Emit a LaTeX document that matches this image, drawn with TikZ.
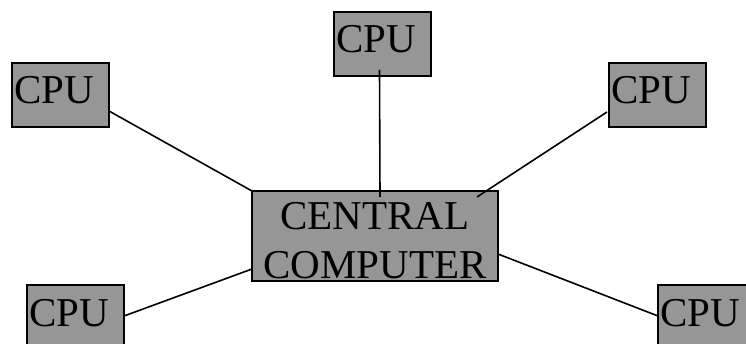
\documentclass[tikz,border=0pt]{standalone}
\usepackage{fontspec}
\setmainfont{Liberation Serif}
\usetikzlibrary{positioning}
\definecolor{boxgray}{RGB}{150,150,150}

\begin{document}
\begin{tikzpicture}[
		x=1pt, y=-1pt,
		line width=1.6pt,
		cpu/.style={draw, fill=boxgray, anchor=north west, outer sep=0pt, inner xsep=2pt, inner ysep=0pt, text width=93pt, align=left, text height=41pt, text depth=23pt, font=\fontsize{41}{49}\selectfont},
		computer/.style={draw, fill=boxgray, anchor=north west, outer sep=0pt, inner sep=0pt, minimum width=246pt, text height=88pt, text depth=2pt, align=center, font=\fontsize{41}{49}\selectfont},
	]
	\useasboundingbox (0,0) rectangle (746,344);
	\clip (0,0) rectangle (746,344);

	\node[cpu] (cputl) at (12,63) {CPU};
	\node[cpu] (cputop) at (334,12) {CPU};
	\node[cpu] (cputr) at (609,63) {CPU};
	\node[cpu] (cpubl) at (27,285) {CPU};
	\node[cpu] (cpubr) at (658,285) {CPU};
	\node[computer] (central) at (252,191) {CENTRAL\\COMPUTER};

	\draw ([yshift=-16pt]cputl.east) -- (central.north west);
	\draw ([xshift=-3pt, yshift=6pt]cputop.south) -- ([xshift=5pt, yshift=-6pt]central.north);
	\draw ([xshift=-2pt, yshift=-17pt]cputr.west) -- ([xshift=-21pt, yshift=-6pt]central.north east);
	\draw ([yshift=1pt]cpubl.east) -- ([yshift=12pt]central.south west);
	\draw ([yshift=-18pt]central.east) -- ([yshift=1pt]cpubr.west);
\end{tikzpicture}
\end{document}
